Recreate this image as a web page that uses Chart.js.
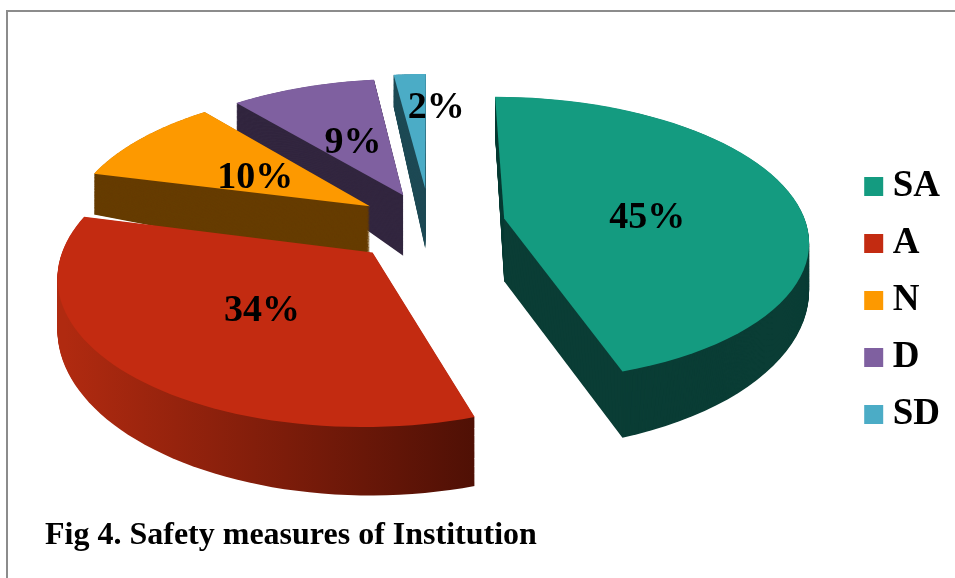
<!DOCTYPE html>
<html>
<head>
<meta charset="utf-8">
<style>
html,body{margin:0;padding:0;background:#fff;width:955px;height:578px;overflow:hidden}
#wrap{position:relative;width:955px;height:578px}
#frame{position:absolute;left:6px;top:10px;right:-5px;bottom:-5px;border:2px solid #8c8c8c}
canvas{position:absolute;left:0;top:0}
</style>
<script src="https://cdn.jsdelivr.net/npm/chart.js@4"></script>
</head>
<body>
<div id="wrap"><div id="frame"></div><canvas id="c" width="955" height="578"></canvas></div>
<script>
const categories = ['SA', 'A', 'N', 'D', 'SD'];
const percentages = [45, 34, 10, 9, 2];
const topColors = ['#149b80', '#c32b11', '#fd9900', '#7f60a0', '#4bacc6'];
const wallColors = ['#0a3d35', null, '#663c00', '#32263f', '#1f4a55'];
const explode = [25, 27, 24, 23, 26];
const labelRadius = [49, 48, 50, 49, 75];
const labelNudgeX = [0, 0, 4, 2, 23];
const labelNudgeY = [10, 4, 7, 4, 8];
const chartTitle = 'Fig 4. Safety measures of Institution';
const FONT = '"Liberation Serif", "Times New Roman", serif';

const P = {cx: 430, cy: 224, R: 302, Rk: 140.6, px: 0.14, py: 0.143};
function project(u, v, t) {
  const depth = 64 - 12 * u * u - 8.75 * v * v + 14.5 * v;
  return [P.cx + P.R * u / (1 - P.px * v), P.cy + P.Rk * v / (1 - P.py * v) + t * depth];
}
function pie3d(ctx, el, i, t) {
  const d = explode[i] / 100, mid = (el.startAngle + el.endAngle) / 2;
  const ox = Math.cos(mid) * d, oy = Math.sin(mid) * d;
  const n = 60;
  ctx.beginPath();
  let pt = project(ox, oy, t);
  ctx.moveTo(pt[0], pt[1]);
  for (let k = 0; k <= n; k++) {
    const a = el.startAngle + (el.endAngle - el.startAngle) * k / n;
    pt = project(ox + Math.cos(a), oy + Math.sin(a), t);
    ctx.lineTo(pt[0], pt[1]);
  }
  ctx.closePath();
  ctx.fill();
}
const pie3dPlugin = {
  id: 'pie3d',
  beforeDatasetDraw(chart, args) {
    const ctx = chart.ctx, meta = args.meta;
    const order = meta.data.map((_, i) => i).reverse();
    ctx.save();
    for (const i of order) {
      const el = meta.data[i];
      if (wallColors[i]) {
        ctx.fillStyle = wallColors[i];
      } else {
        const g = ctx.createLinearGradient(65, 0, 475, 0);
        g.addColorStop(0, '#b02a10');
        g.addColorStop(1, '#4f1005');
        ctx.fillStyle = g;
      }
      for (let t = 1; t >= 0; t -= 0.015) pie3d(ctx, el, i, t);
      ctx.fillStyle = topColors[i];
      pie3d(ctx, el, i, 0);
    }
    ctx.fillStyle = '#000';
    ctx.font = 'bold 38px ' + FONT;
    ctx.textAlign = 'center';
    ctx.textBaseline = 'middle';
    meta.data.forEach((el, i) => {
      const mid = (el.startAngle + el.endAngle) / 2;
      const r = (explode[i] + labelRadius[i]) / 100;
      const pt = project(Math.cos(mid) * r, Math.sin(mid) * r, 0);
      ctx.fillText(percentages[i] + '%', pt[0] + labelNudgeX[i], pt[1] + labelNudgeY[i]);
    });
    ctx.restore();
    return false;
  }
};
new Chart(document.getElementById('c'), {
  type: 'pie',
  data: {
    labels: categories,
    datasets: [{data: percentages, backgroundColor: topColors, borderWidth: 0, offset: explode}]
  },
  plugins: [pie3dPlugin],
  options: {
    responsive: false,
    animation: false,
    layout: {padding: {left: 45, right: 5, top: 46, bottom: 23}},
    plugins: {
      tooltip: {enabled: false},
      title: {
        display: true, text: chartTitle, position: 'bottom', align: 'start',
        color: '#000', font: {family: FONT, size: 32, weight: 'bold'}, padding: {top: 0, bottom: 0}
      },
      legend: {
        position: 'right',
        labels: {
          boxWidth: 1, boxHeight: 1, padding: 20, color: '#000',
          font: {family: FONT, size: 37, weight: 'bold'},
          generateLabels(chart) {
            return Chart.overrides.pie.plugins.legend.labels.generateLabels(chart).map((item, i) =>
              Object.assign(item, {strokeStyle: topColors[i], lineWidth: 18}));
          }
        }
      }
    }
  }
});
</script>
</body>
</html>
